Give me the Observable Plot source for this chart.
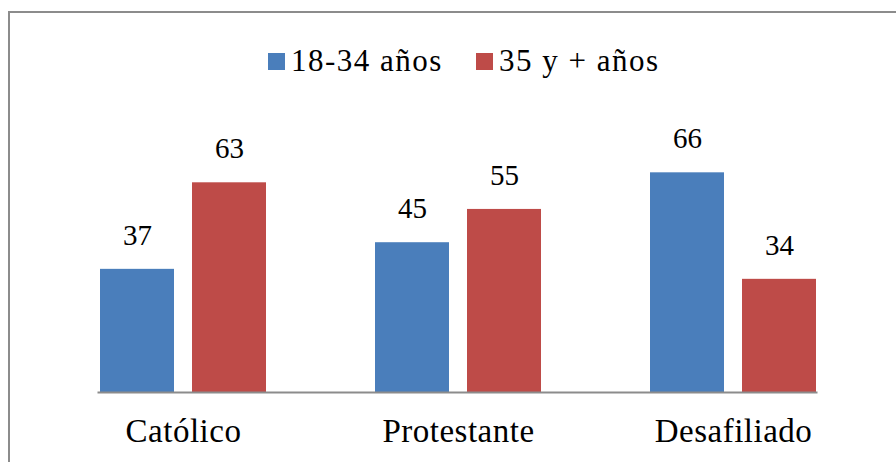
<!DOCTYPE html>
<html>
<head>
<meta charset="utf-8">
<script src="https://cdn.jsdelivr.net/npm/d3@7"></script>
<script src="https://cdn.jsdelivr.net/npm/@observablehq/plot@0.6"></script>
<style>
  html, body { margin: 0; padding: 0; background: #fff; width: 896px; height: 462px; overflow: hidden; }
  #frame { position: absolute; left: 8px; top: 11px; width: 1000px; height: 1000px; border: 2px solid #8c8c8c; box-sizing: border-box; }
  #legend { position: absolute; left: 268px; top: 43px; height: 36px; display: flex; align-items: center;
            font-family: "Liberation Serif", "Times New Roman", serif; font-size: 31px; color: #000; letter-spacing: 1.5px; white-space: nowrap; }
  .sw { display: inline-block; width: 17px; height: 17px; margin-right: 6px; }
  .item { display: flex; align-items: center; margin-right: 33px; }
  #chart { position: absolute; left: 0; top: 120px; }
  #chart svg, #chart svg text { font-family: "Liberation Serif", "Times New Roman", serif !important; }
  #chart svg g[aria-label="fx-axis tick label"] text { letter-spacing: 0.5px; }
</style>
</head>
<body>
<div id="frame"></div>
<div id="legend"></div>
<div id="chart"></div>
<script>
const categories = ["Católico", "Protestante", "Desafiliado"];
const series = ["18-34 años", "35 y + años"];
const young = [37, 45, 66];
const older = [63, 55, 34];
const colors = ["#4A7EBB", "#BE4B48"];

const data = categories.flatMap((c, i) => [
  {category: c, series: series[0], value: young[i]},
  {category: c, series: series[1], value: older[i]}
]);

const legend = document.getElementById("legend");
series.forEach((s, i) => {
  const item = document.createElement("div");
  item.className = "item";
  const sw = document.createElement("span");
  sw.className = "sw";
  sw.style.background = colors[i];
  item.appendChild(sw);
  item.appendChild(document.createTextNode(s));
  legend.appendChild(item);
});

const chart = Plot.plot({
  width: 896,
  height: 342,
  marginLeft: 45,
  marginRight: 25,
  marginTop: 39,
  marginBottom: 70,
  style: {fontFamily: "'Liberation Serif', 'Times New Roman', serif", background: "transparent", color: "#000"},
  fx: {domain: categories, paddingInner: 0.397, paddingOuter: 0.1985, label: null},
  x: {domain: series, paddingInner: 0.1957, paddingOuter: 0, axis: null},
  y: {domain: [0, 70], axis: null},
  color: {domain: series, range: colors},
  marks: [
    Plot.barY(data, {fx: "category", x: "series", y: "value", fill: "series"}),
    Plot.text(data, {fx: "category", x: "series", y: "value", text: d => String(d.value), dy: -34, fontSize: 29, fill: "#000"}),
    Plot.frame({anchor: "bottom", facet: "super", stroke: "#8c8c8c", strokeWidth: 2, insetLeft: -2}),
    Plot.axisFx({anchor: "bottom", tickSize: 0, tickPadding: 26, fontSize: 33, label: null})
  ]
});
document.getElementById("chart").appendChild(chart);
</script>
</body>
</html>
